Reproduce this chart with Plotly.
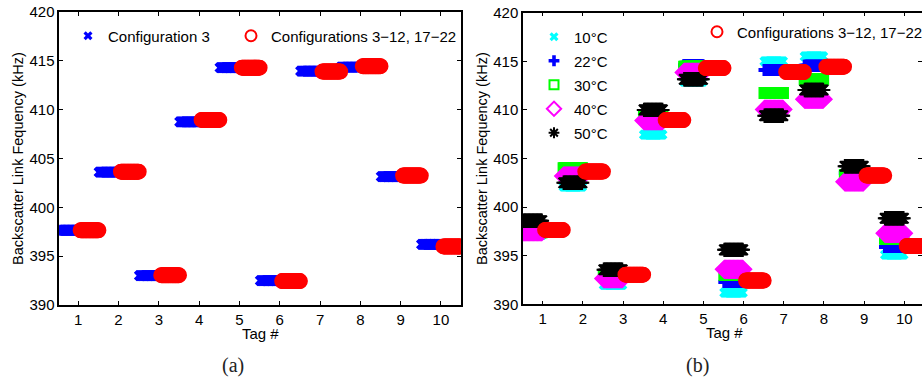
import numpy as np
import plotly.graph_objects as go

# ---------------- data ----------------
tags = [1, 2, 3, 4, 5, 6, 7, 8, 9, 10]

# panel (a): mean backscatter link frequency per tag (kHz)
config3 = [397.65, 403.6, 393.0, 408.75, 414.3, 392.5, 413.95, 414.35, 403.15, 396.2]
configs_all = [397.65, 403.65, 393.05, 408.95, 414.3, 392.45, 413.9, 414.45, 403.25, 396.0]

# panel (b): per temperature
temp_labels = ["10°C", "22°C", "30°C", "40°C", "50°C"]
temp_10 = [397.15, 402.1, 392.0, 407.45, 412.9, 391.2, 415.0, 415.5, 403.0, 395.1]
temp_22 = [397.3, 403.3, 392.8, 409.0, 414.6, 392.3, 414.1, 414.55, 403.5, 395.9]
temp_30 = [397.4, 404.0, 393.0, 409.3, 414.45, 393.05, 411.75, 413.15, 403.3, 396.75]
temp_40 = [397.47, 403.2, 392.65, 408.9, 413.85, 393.6, 410.05, 411.1, 402.6, 397.3]
temp_50 = [398.6, 402.5, 393.55, 410.0, 413.15, 395.6, 409.4, 412.05, 404.2, 398.85]

legend_a = ["Configuration 3", "Configurations 3\u221212, 17\u221222"]

N_SAMPLES = 24  # reads per cluster, spread by read index inside each tag slot


def cluster_xy(values, start, width):
    xs, ys = [], []
    idx = np.arange(N_SAMPLES) / (N_SAMPLES - 1)
    for t, v in zip(tags, values):
        xs.extend(t + start + width * idx)
        ys.extend([v] * N_SAMPLES)
    return xs, ys


W, H = 922, 379
FONT = "Liberation Sans, Arial, Helvetica, sans-serif"

fig = go.Figure()

# ---- panel (a)
x, y = cluster_xy(config3, -0.48, 0.46)
fig.add_trace(go.Scatter(x=x, y=y, mode="markers", xaxis="x", yaxis="y", showlegend=False,
                         marker=dict(symbol="x", size=10, color="#0000ff", line=dict(width=0))))
x, y = cluster_xy(configs_all, 0.06, 0.44)
fig.add_trace(go.Scatter(x=x, y=y, mode="markers", xaxis="x", yaxis="y", showlegend=False,
                         marker=dict(symbol="circle-open", size=14, color="#ff0000", line=dict(width=2, color="#ff0000"))))

# ---- panel (b)
temp_styles = [
    ("#00ffff", "x", 9, 0),
    ("#0000ff", "cross", 10, 0),
    ("#00ff00", "square-open", 10, 2),
    ("#ff00ff", "diamond-open", 13, 2),
    ("#000000", "asterisk-open", 12, 2),
]
legend_styles = [
    ("#00ffff", "x", 8, 0),
    ("#0000ff", "cross", 9, 0),
    ("#00ff00", "square-open", 9, 2),
    ("#ff00ff", "diamond-open", 11, 2),
    ("#000000", "asterisk-open", 9, 2),
]
temps = [temp_10, temp_22, temp_30, temp_40, temp_50]
for vals, (c, s, sz, lw) in zip(temps, temp_styles):
    x, y = cluster_xy(vals, -0.48, 0.46)
    fig.add_trace(go.Scatter(x=x, y=y, mode="markers", xaxis="x2", yaxis="y2", showlegend=False,
                             marker=dict(symbol=s, size=sz, color=c, line=dict(width=lw, color=c))))
x, y = cluster_xy(configs_all, 0.06, 0.44)
fig.add_trace(go.Scatter(x=x, y=y, mode="markers", xaxis="x2", yaxis="y2", showlegend=False,
                         marker=dict(symbol="circle-open", size=14, color="#ff0000", line=dict(width=2, color="#ff0000"))))

# ---- legend entries
fig.add_trace(go.Scatter(x=[None], y=[None], mode="markers", name=legend_a[0], legend="legend",
                         marker=dict(symbol="x", size=8, color="#0000ff", line=dict(width=0))))
fig.add_trace(go.Scatter(x=[None], y=[None], mode="markers", name=legend_a[1], legend="legend2",
                         marker=dict(symbol="circle-open", size=11, color="#ff0000", line=dict(width=2, color="#ff0000"))))
for lab, (c, s, sz, lw) in zip(temp_labels, legend_styles):
    fig.add_trace(go.Scatter(x=[None], y=[None], mode="markers", name=lab, legend="legend3", legendgroup=lab,
                             xaxis="x2", yaxis="y2",
                             marker=dict(symbol=s, size=sz, color=c, line=dict(width=lw, color=c))))
fig.add_trace(go.Scatter(x=[None], y=[None], mode="markers", name=legend_a[1], legend="legend4",
                         xaxis="x2", yaxis="y2",
                         marker=dict(symbol="circle-open", size=11, color="#ff0000", line=dict(width=2, color="#ff0000"))))

def px_x(p):
    return p / W


def px_y(p):
    return 1 - p / H


axis_common = dict(showline=True, linecolor="black", linewidth=1.5, mirror="ticks", ticks="inside",
                   ticklen=4, tickwidth=1, tickcolor="black", showgrid=False, zeroline=False,
                   automargin=False,
                   tickfont=dict(family=FONT, size=15, color="black"))

legend_common = dict(font=dict(family=FONT, size=15, color="black"), bgcolor="rgba(0,0,0,0)",
                     borderwidth=0, xanchor="left", yanchor="middle")

fig.update_layout(
    width=W, height=H, margin=dict(l=0, r=0, t=0, b=0, autoexpand=False),
    paper_bgcolor="white", plot_bgcolor="white",
    xaxis=dict(domain=[px_x(59.3), px_x(460.7)], range=[0.53, 10.49], tickvals=tags, anchor="y", **axis_common),
    yaxis=dict(domain=[px_y(305), px_y(12)], range=[390, 420], dtick=5, anchor="x", **axis_common),
    xaxis2=dict(domain=[px_x(523), 1.0], range=[0.51, 10.44], tickvals=tags, anchor="y2", **axis_common),
    yaxis2=dict(domain=[px_y(304.3), px_y(12.7)], range=[390, 420], dtick=5, anchor="x2", **axis_common),
    legend=dict(x=px_x(68), y=px_y(36), **legend_common),
    legend2=dict(x=px_x(231), y=px_y(36), **legend_common),
    legend3=dict(x=px_x(534), y=px_y(85), tracegroupgap=1.5, **legend_common),
    legend4=dict(x=px_x(697), y=px_y(32), **legend_common),
)

ann = [
    dict(text="Backscatter Link Fequency (kHz)", x=px_x(18), y=px_y(159), textangle=-90, size=14.5),
    dict(text="Backscatter Link Fequency (kHz)", x=px_x(482), y=px_y(159), textangle=-90, size=14.5),
    dict(text="Tag #", x=px_x(260), y=px_y(333), textangle=0, size=15),
    dict(text="Tag #", x=px_x(724), y=px_y(332), textangle=0, size=15),
]
for a in ann:
    fig.add_annotation(text=a["text"], x=a["x"], y=a["y"], xref="paper", yref="paper", showarrow=False,
                       textangle=a["textangle"], xanchor="center", yanchor="middle",
                       font=dict(family=FONT, size=a["size"], color="black"))
for lab, xc in [("(a)", 233), ("(b)", 697)]:
    fig.add_annotation(text=lab, x=px_x(xc), y=px_y(365), xref="paper", yref="paper", showarrow=False,
                       xanchor="center", yanchor="middle",
                       font=dict(family="Liberation Serif, Times New Roman, serif", size=20, color="#222222"))

fig.write_html("out.html")
